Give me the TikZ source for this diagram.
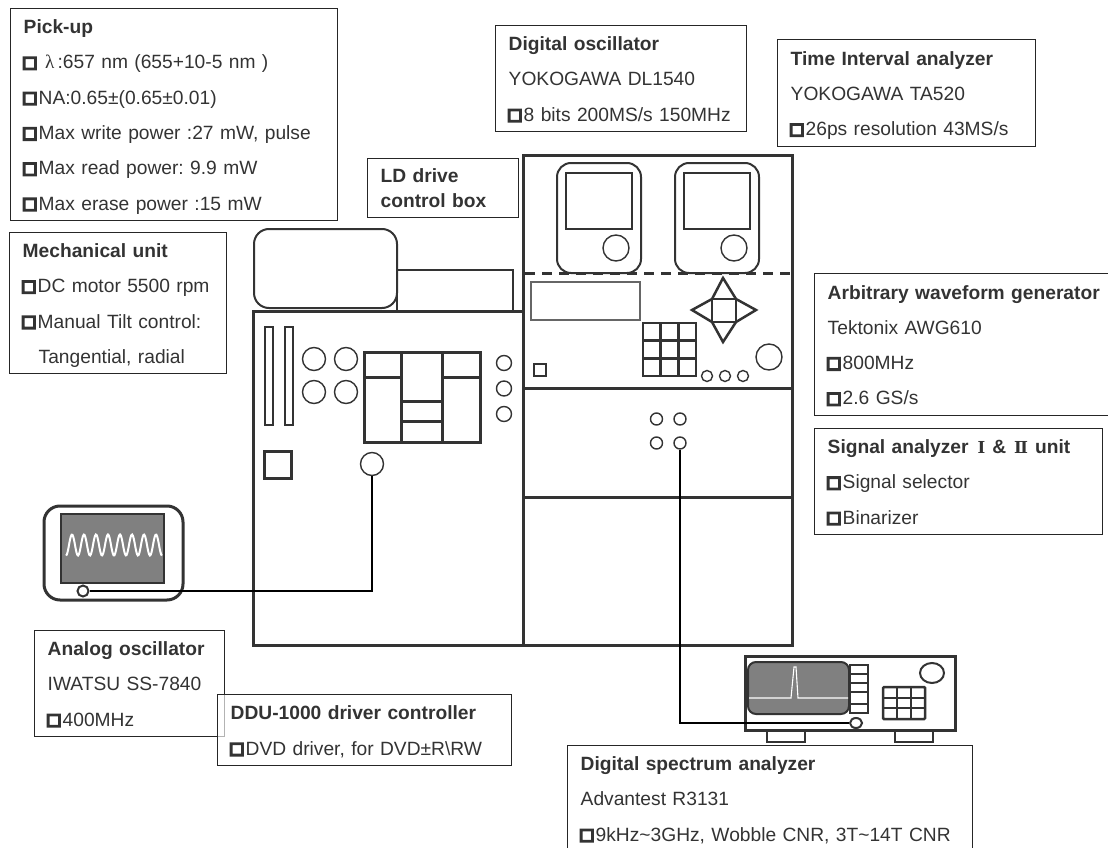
\documentclass[tikz,border=0pt]{standalone}
\usepackage{fontspec}
\setmainfont{Liberation Sans}
\newfontfamily\symfont[FakeBold=12]{DejaVu Sans}
\newfontfamily\romfont{DejaVu Serif}
\newfontfamily\grkfont{Liberation Serif}
\usetikzlibrary{positioning, shapes.geometric}
\definecolor{ink}{gray}{0.2}
\definecolor{screen}{gray}{0.5}
\newcommand{\bul}{\makebox[15pt][l]{\hspace*{-1.5pt}\raisebox{1.5pt}{\symfont\fontsize{16}{35}\selectfont □}}}
\newcommand{\rom}[1]{{\romfont\fontsize{16.5}{35}\selectfont #1}}
\tikzset{
  infobox/.style n args={2}{draw=black!85, line width=1.4pt, anchor=north west, align=left, inner xsep=13pt, inner ysep=0pt,
    text=ink, font=\frenchspacing\fontsize{19.2}{35.3}\selectfont, text width=#1pt-26pt, minimum height=#2pt,
    execute at begin node=\leavevmode\rule{0pt}{20pt}, execute at end node=\rule[-5.5pt]{0pt}{0pt}},
  rack/.style={draw=ink, line width=3pt},
  part/.style={draw=ink, line width=2pt},
  port/.style={circle, draw=ink, line width=1.4pt, fill=white, inner sep=0pt},
  wire/.style={draw=black, line width=1.5pt},
}
\begin{document}
\begin{tikzpicture}[x=1pt, y=-1pt]
\useasboundingbox (0, 0) rectangle (1108, 848);

% racks
\draw[rack] (253, 311) rectangle (523, 645);
\draw[rack] (523, 155) rectangle (792, 645);
\draw[rack] (523, 388) -- (792, 388);
\draw[rack] (523, 497) -- (792, 497);
\draw[rack, dash pattern=on 10pt off 7pt] (525, 273) -- (790, 273);

% mechanical unit
\draw[part, rounded corners=15pt] (254, 229) rectangle (397, 308);
\draw[part] (397, 270) rectangle (513, 311);
\foreach \x in {265, 285} {
  \draw[part] (\x, 327) rectangle (\x + 8, 425);
}
\foreach \x in {314, 346} {
  \foreach \y in {359, 392} {
    \node[port, minimum size=23pt] at (\x, \y) {};
  }
}
\draw[rack] (364, 352) rectangle (480, 442);
\draw[rack] (401, 352) -- (401, 442);
\draw[rack] (442, 352) -- (442, 442);
\draw[rack] (364, 377) -- (401, 377);
\draw[rack] (442, 377) -- (480, 377);
\draw[rack] (401, 401) -- (442, 401);
\draw[rack] (401, 421) -- (442, 421);
\foreach \y in {363, 388.5, 414} {
  \node[port, minimum size=15pt] at (504, \y) {};
}
\draw[rack] (264, 451) rectangle (291, 478);
\node[port, minimum size=23pt] (driveport) at (372, 464) {};

% scopes on the rack
\foreach \x in {557, 675} {
  \draw[part, rounded corners=14pt] (\x, 163) rectangle (\x + 84, 273);
  \draw[part] (\x + 9, 173) rectangle (\x + 75, 229);
  \node[port, minimum size=26pt] at (\x + 59, 248) {};
}

% generator panel
\draw[draw=black!60, line width=1.4pt] (531, 282) rectangle (640, 320);
\draw[part, line width=2.5pt] (534, 364) rectangle (546, 376);
\draw[part, line width=2.5pt] (643, 323) rectangle (696, 376);
\foreach \k in {1, 2} {
  \draw[part, line width=2.5pt] (643 + 17.67*\k, 323) -- (643 + 17.67*\k, 376);
  \draw[part, line width=2.5pt] (643, 323 + 17.67*\k) -- (696, 323 + 17.67*\k);
}
\draw[part, line width=2.5pt] (712, 299) rectangle (736, 322);
\draw[part, line width=2.5pt] (712, 299) -- (723, 278) -- (736, 299);
\draw[part, line width=2.5pt] (712, 322) -- (723, 342) -- (736, 322);
\draw[part, line width=2.5pt] (712, 299) -- (692, 310) -- (712, 322);
\draw[part, line width=2.5pt] (736, 299) -- (756, 310) -- (736, 322);
\node[port, minimum size=26pt] at (769, 357) {};
\foreach \x in {707, 725, 743} {
  \node[port, minimum size=11pt] at (\x, 376) {};
}

% signal analyzer unit
\node[port, minimum size=12pt] at (656.5, 419) {};
\node[port, minimum size=12pt] at (680, 419) {};
\node[port, minimum size=12pt] at (656.5, 443) {};
\node[port, minimum size=12pt] (unitport) at (680, 443) {};

% analog oscillator
\draw[rack, rounded corners=16pt] (44, 506) rectangle (183, 600);
\draw[draw=ink, line width=1.2pt, fill=screen] (61, 514) rectangle (164, 583);
\draw[white, line width=2pt, smooth, samples=120, domain=0:96] plot ({66 + \x}, {545 + 10.5*cos(30*\x)});

% spectrum analyzer
\draw[rack] (745, 656) rectangle (955, 730);
\draw[part, fill=screen, rounded corners=8pt] (748, 662) rectangle (849, 714);
\draw[white, line width=1.1pt] (749, 698) -- (791, 698) -- (794, 667) -- (796, 667) -- (798, 698) -- (848, 698);
\draw[part] (850, 665) rectangle (868, 713);
\foreach \y in {674, 683, 692, 704} {
  \draw[part] (850, \y) -- (868, \y);
}
\draw[part, rounded corners=1pt, line width=2.5pt] (883, 687) rectangle (925, 719);
\foreach \x in {897, 911} {
  \draw[part, line width=2.5pt] (\x, 687) -- (\x, 719);
}
\foreach \y in {698, 708} {
  \draw[part, line width=2.5pt] (883, \y) -- (925, \y);
}
\draw[part] (932, 673) ellipse[x radius=12, y radius=10];
\foreach \x in {767, 895} {
  \draw[draw=ink, line width=1.4pt] (\x, 731) -- (\x, 742) -- (\x + 38, 742) -- (\x + 38, 731);
}
\node[port, ellipse, line width=2pt, minimum width=12pt, minimum height=10pt] (spectport) at (856, 723) {};
\node[port, line width=2pt, minimum size=11pt] (scopeport) at (83, 591) {};

% connectors
\draw[wire] (driveport) |- (scopeport);
\draw[wire] (unitport) |- (spectport);

% labels
\node[infobox={327}{212}] (pickup) at (10, 8) {\textbf{Pick-up}\\
\bul\ {\grkfont λ}\,:657 nm (655+10-5 nm )\\
\bul NA:0.65±(0.65±0.01)\\
\bul Max write power :27 mW, pulse\\
\bul Max read power: 9.9 mW\\
\bul Max erase power :15 mW};
\node[infobox={217}{141}] (mechunit) at (9, 232) {\textbf{Mechanical unit}\\
\bul DC motor 5500 rpm\\
\bul Manual Tilt control:\\
\hspace*{16pt}Tangential, radial};
\node[infobox={251}{106}] (digiosc) at (495, 25) {\textbf{Digital oscillator}\\
YOKOGAWA DL1540\\
\bul 8 bits 200MS/s 150MHz};
\node[infobox={258}{107}] (timeana) at (777, 39) {\textbf{Time Interval analyzer}\\
YOKOGAWA TA520\\
\bul 26ps resolution 43MS/s};
\node[infobox={151}{59}, font=\frenchspacing\fontsize{19.2}{25}\selectfont] (ldbox) at (367, 158) {\textbf{LD drive}\\
\textbf{control box}};
\node[infobox={300}{142}] (awg) at (814, 273) {\textbf{Arbitrary waveform generator}\\
Tektonix AWG610\\
\bul 800MHz\\
\bul 2.6 GS/s};
\node[infobox={288}{106}] (sigana) at (814, 428) {\textbf{Signal analyzer\hspace{9pt}\rom{Ⅰ}\hspace{7pt}\&\hspace{8pt}\rom{Ⅱ}\hspace{7pt}unit}\\
\bul Signal selector\\
\bul Binarizer};
\node[infobox={190}{106}] (analog) at (34, 630) {\textbf{Analog oscillator}\\
IWATSU SS-7840\\
\bul 400MHz};
\node[infobox={294}{71}, fill=white, fill opacity=0.65, text opacity=1] (ddu) at (217, 694) {\textbf{DDU-1000 driver controller}\\
\bul DVD driver, for DVD±R\textbackslash RW};
\node[infobox={405}{106}] (spectrum) at (567, 745) {\textbf{Digital spectrum analyzer}\\
Advantest R3131\\
\bul 9kHz\textasciitilde 3GHz, Wobble CNR, 3T\textasciitilde 14T CNR};
\end{tikzpicture}
\end{document}
